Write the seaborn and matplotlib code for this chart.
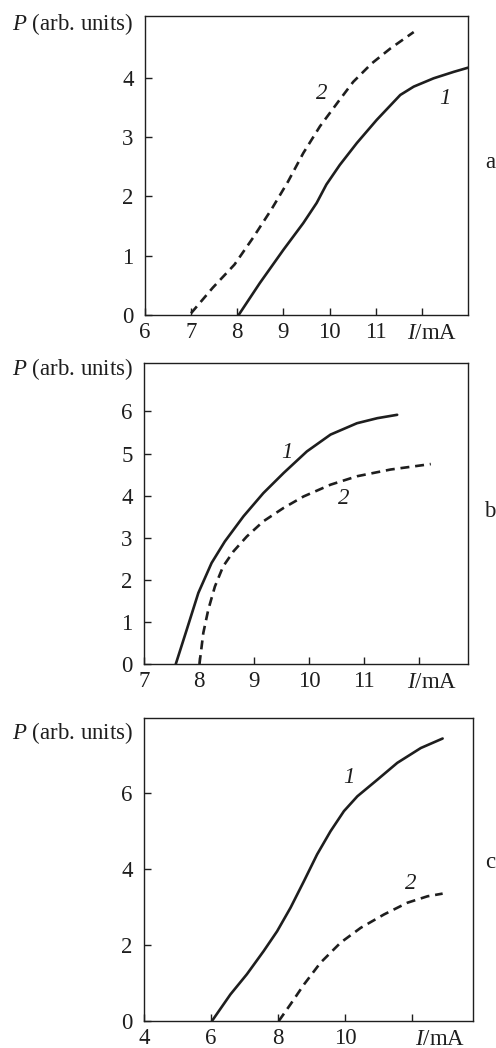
import matplotlib
matplotlib.use("Agg")
import matplotlib.pyplot as plt
import matplotlib.transforms as mtransforms
import seaborn as sns

# panel a
a1_I = [8.03, 8.49, 9.0, 9.43, 9.72, 9.93, 10.22, 10.59, 11.02, 11.53, 11.82, 12.25, 12.69, 13.0]
a1_P = [0.0, 0.54, 1.10, 1.55, 1.89, 2.20, 2.53, 2.90, 3.29, 3.71, 3.85, 3.99, 4.10, 4.17]
a2_I = [7.0, 7.47, 7.94, 8.34, 8.74, 9.10, 9.43, 9.79, 10.19, 10.51, 10.91, 11.31, 11.82]
a2_P = [0.03, 0.46, 0.85, 1.30, 1.78, 2.25, 2.73, 3.18, 3.60, 3.93, 4.24, 4.49, 4.77]

# panel b
b1_I = [7.58, 7.78, 7.99, 8.23, 8.47, 8.81, 9.17, 9.54, 9.96, 10.39, 10.87, 11.24, 11.60]
b1_P = [0.0, 0.82, 1.69, 2.40, 2.91, 3.51, 4.06, 4.54, 5.05, 5.45, 5.72, 5.84, 5.92]
b2_I = [8.01, 8.08, 8.17, 8.29, 8.44, 8.63, 8.87, 9.17, 9.54, 9.90, 10.39, 10.87, 11.48, 12.21]
b2_P = [0.0, 0.74, 1.29, 1.84, 2.32, 2.68, 3.03, 3.39, 3.71, 3.98, 4.26, 4.46, 4.62, 4.75]

# panel c
c1_I = [6.03, 6.58, 7.07, 7.57, 7.97, 8.37, 8.77, 9.16, 9.56, 9.96, 10.36, 10.96, 11.55, 12.25, 12.90]
c1_P = [0.0, 0.70, 1.23, 1.84, 2.36, 2.98, 3.68, 4.38, 4.99, 5.52, 5.91, 6.35, 6.79, 7.18, 7.43]
c2_I = [8.02, 8.37, 8.77, 9.26, 9.86, 10.46, 11.15, 11.85, 12.45, 12.90]
c2_P = [0.0, 0.44, 0.96, 1.53, 2.06, 2.45, 2.80, 3.11, 3.28, 3.35]

sns.set_style("ticks")
plt.rcParams["font.family"] = ["Liberation Serif", "DejaVu Serif"]
plt.rcParams["mathtext.fontset"] = "custom"
plt.rcParams["mathtext.rm"] = "Liberation Serif"
plt.rcParams["mathtext.it"] = "Liberation Serif:italic"

FS = 16.5
ink = "#1e1e1e"

fig = plt.figure(figsize=(4.96, 10.48), dpi=100)

panels = [
    dict(rect=[0.292, 0.6994, 0.652, 0.2853], xlim=(6, 13), ylim=(0, 5.04),
         xticks=[6, 7, 8, 9, 10, 11, 12], yticks=[0, 1, 2, 3, 4],
         s1=(a1_I, a1_P), s2=(a2_I, a2_P), unit_x=12.22,
         lab1=(12.49, 3.65), lab2=(9.83, 3.74), letter="a", ylab_y=24, letter_y=162),
    dict(rect=[0.290, 0.3664, 0.654, 0.2872], xlim=(7, 12.89), ylim=(0, 7.15),
         xticks=[7, 8, 9, 10, 11, 12], yticks=[0, 1, 2, 3, 4, 5, 6],
         s1=(b1_I, b1_P), s2=(b2_I, b2_P), unit_x=12.23,
         lab1=(9.6, 5.03), lab2=(10.63, 3.92), letter="b", ylab_y=369, letter_y=512),
    dict(rect=[0.290, 0.0258, 0.664, 0.2891], xlim=(4, 13.81), ylim=(0, 7.97),
         xticks=[4, 6, 8, 10, 12], yticks=[0, 2, 4, 6],
         s1=(c1_I, c1_P), s2=(c2_I, c2_P), unit_x=12.82,
         lab1=(10.11, 6.41), lab2=(11.95, 3.61), letter="c", ylab_y=733, letter_y=862),
]

for p in panels:
    ax = fig.add_axes(p["rect"])
    sns.lineplot(x=p["s1"][0], y=p["s1"][1], ax=ax, color=ink, lw=1.9, sort=False)
    sns.lineplot(x=p["s2"][0], y=p["s2"][1], ax=ax, color=ink, lw=1.9, sort=False,
                 dashes=False, linestyle=(0, (3.4, 2.2)))
    ax.set_xlim(*p["xlim"])
    ax.set_ylim(*p["ylim"])
    ax.set_xticks(p["xticks"])
    ax.set_xticklabels([str(t) for t in p["xticks"][:-1]] + [""])
    ax.set_yticks(p["yticks"])
    ax.set_yticklabels([str(t) for t in p["yticks"]])
    ax.tick_params(direction="in", length=5, width=1.0, colors=ink, labelsize=FS)
    ax.tick_params(axis="y", pad=8)
    ax.tick_params(axis="x", pad=5)
    for sp in ax.spines.values():
        sp.set_visible(True)
        sp.set_linewidth(1.0)
        sp.set_color(ink)
    ax.set_xlabel("")
    ax.set_ylabel("")

    trans = mtransforms.blended_transform_factory(ax.transData, ax.transAxes)
    ax.annotate(r"$I$/mA", xy=(p["unit_x"], 0), xycoords=trans,
                xytext=(0, -5.5), textcoords="offset points",
                ha="center", va="top", fontsize=FS, color=ink)
    ax.text(*p["lab1"], "1", fontsize=FS, style="italic", color=ink, ha="center", va="center")
    ax.text(*p["lab2"], "2", fontsize=FS, style="italic", color=ink, ha="center", va="center")

    fig.text(133 / 496, 1 - p["ylab_y"] / 1048, r"$P$ (arb. units)", fontsize=FS,
             ha="right", va="center", color=ink)
    fig.text(490 / 496, 1 - p["letter_y"] / 1048, p["letter"], fontsize=FS,
             ha="center", va="center", color=ink)

fig.savefig("out.png", dpi=100)
